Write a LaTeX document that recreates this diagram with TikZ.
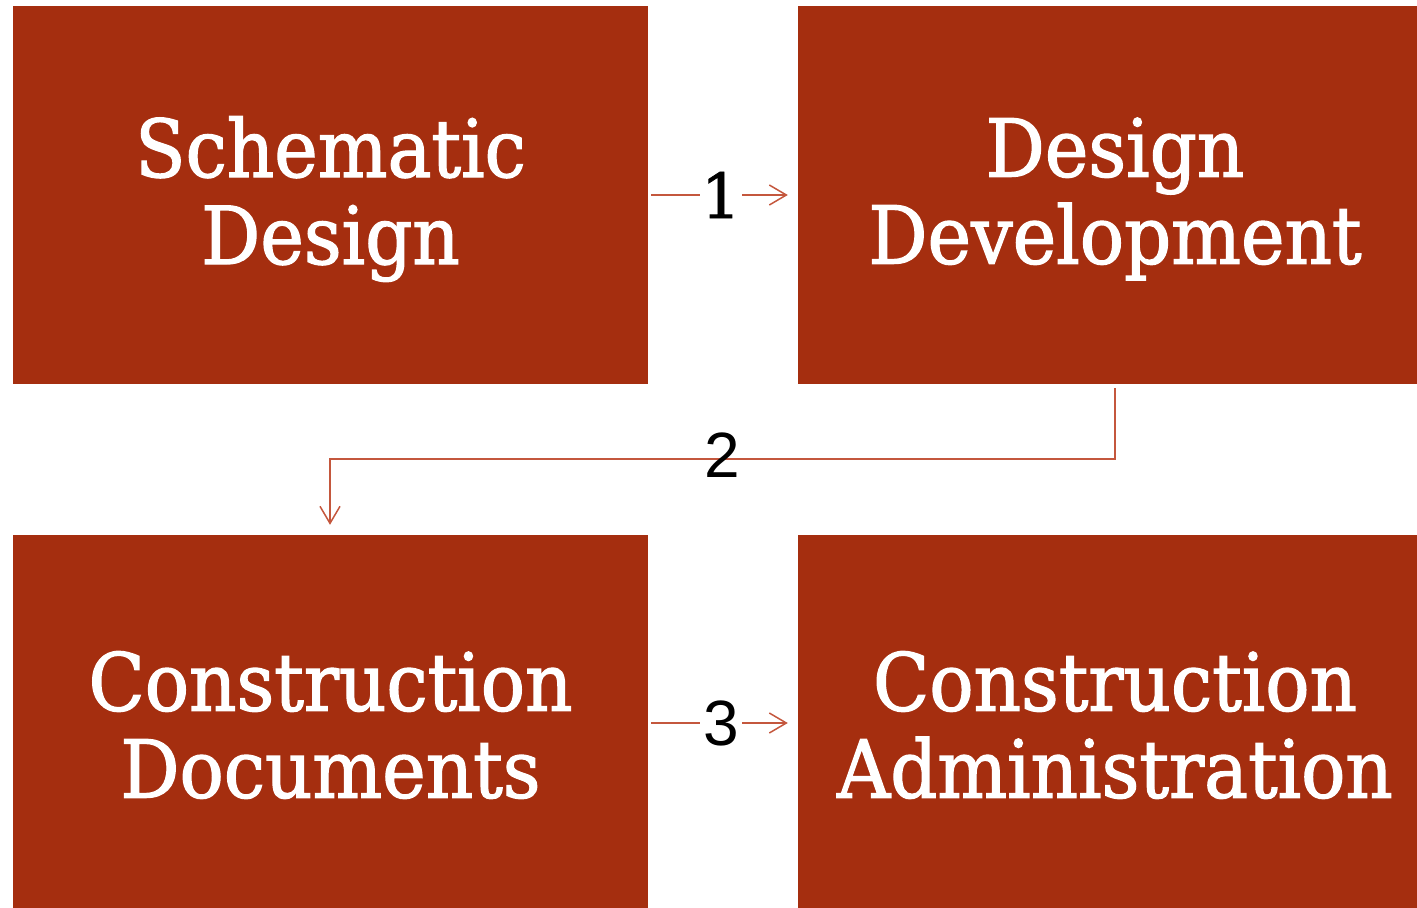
\documentclass[tikz,border=0pt]{standalone}
\usepackage{fontspec}
\usetikzlibrary{arrows.meta}
\newfontfamily\boxfont[FakeStretch=0.92,FakeBold=1.6]{DejaVu Serif}
\newfontfamily\numserif[FakeBold=1.2]{DejaVu Serif}
\newfontfamily\numsans{Liberation Sans}
\definecolor{boxred}{HTML}{A52E0F}
\definecolor{linered}{HTML}{C4573D}
\begin{document}
\begin{tikzpicture}[x=1pt,y=-1pt,
  phase/.style={fill=boxred, draw=none, inner sep=0pt},
  phasetext/.style={text=white, align=center, inner sep=0pt,
    font=\boxfont\fontsize{80}{87}\selectfont},
  flow/.style={draw=linered, line width=1.5pt, -{Straight Barb[length=17pt,width=20pt,line width=1.5pt]}},
  numlbl/.style={text=black, inner sep=0pt}]
\useasboundingbox (0,0) rectangle (1417,908);
\begin{scope}
\clip (0,0) rectangle (1417,908);
\node[phase, minimum width=635pt, minimum height=378pt] (sd) at (330.5,195) {};
\node[phase, minimum width=634pt, minimum height=378pt] (dd) at (1115,195) {};
\node[phase, minimum width=635pt, minimum height=376pt] (cd) at (330.5,723) {};
\node[phase, minimum width=634pt, minimum height=376pt] (ca) at (1115,723) {};
\end{scope}
\node[phasetext] (sdt) at ([yshift=-4pt]sd.center) {Schematic\\Design};
\node[phasetext] (ddt) at ([yshift=-4pt]dd.center) {Design\\Development};
\node[phasetext] (cdt) at ([yshift=-2pt]cd.center) {Construction\\Documents};
\node[phasetext] (cat) at ([yshift=-2pt]ca.center) {Construction\\Administration};
% connector 1
\draw[flow, shorten <=3pt, shorten >=10pt] (sd.east) -- (dd.west)
  node[midway, xshift=-2pt, fill=white, minimum width=42pt, minimum height=40pt, inner sep=0pt,
       font=\numserif\fontsize{62}{62}\selectfont] (n1) {1};
% connector 2
\coordinate (c2a) at (1115,459);
\coordinate (c2b) at (330,459);
\draw[flow, shorten <=4pt, shorten >=10pt] (dd.south) -- (c2a) -- (c2b) -- (c2b |- cd.north);
\node[numlbl, font=\numsans\fontsize{64}{64}\selectfont] (n2) at (722,455) {2};
% connector 3
\draw[flow, shorten <=3pt, shorten >=10pt] (cd.east) -- (ca.west)
  node[midway, xshift=-2pt, fill=white, minimum width=42pt, minimum height=40pt, inner sep=0pt,
       font=\numsans\fontsize{64}{64}\selectfont] (n3) {3};
\end{tikzpicture}
\end{document}
